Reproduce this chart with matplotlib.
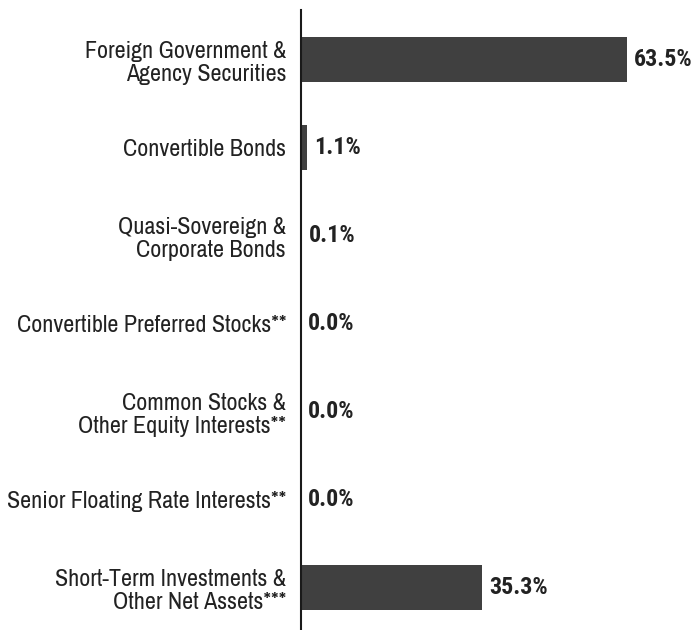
import matplotlib
matplotlib.use("Agg")
import matplotlib.pyplot as plt

categories = [
    "Foreign Government &\nAgency Securities",
    "Convertible Bonds",
    "Quasi-Sovereign &\nCorporate Bonds",
    "Convertible Preferred Stocks**",
    "Common Stocks &\nOther Equity Interests**",
    "Senior Floating Rate Interests**",
    "Short-Term Investments &\nOther Net Assets***",
]
values = [63.5, 1.1, 0.1, 0.0, 0.0, 0.0, 35.3]
value_labels = ["63.5%", "1.1%", "0.1%", "0.0%", "0.0%", "0.0%", "35.3%"]

label_fam = ["Archivo Narrow", "Liberation Sans"]
value_fam = ["Roboto Condensed", "Archivo Narrow", "Liberation Sans"]

fig = plt.figure(figsize=(6.96, 6.30), dpi=100)
ax = fig.add_axes([0.433, 0.0, 0.567, 0.984])

y = list(range(len(categories)))
ax.barh(y, values, height=0.51, color="#404040")
ax.set_ylim(6.48, -0.5625)
ax.set_xlim(0, 77)

for s in ["top", "right", "bottom"]:
    ax.spines[s].set_visible(False)
ax.spines["left"].set_linewidth(1.5)
ax.spines["left"].set_color("#1a1a1a")
ax.set_xticks([])
ax.set_yticks(y)
ax.set_yticklabels(categories, family=label_fam, fontsize=17.3, color="#222222", linespacing=1.12)
ax.tick_params(axis="y", length=0, pad=11)

for yi, v, lab in zip(y, values, value_labels):
    ax.annotate(lab, (v, yi), xytext=(5, 0), textcoords="offset points",
                ha="left", va="center", family=value_fam, fontweight="bold",
                fontsize=17.3, color="#222222")

fig.savefig("out.png", dpi=100)
